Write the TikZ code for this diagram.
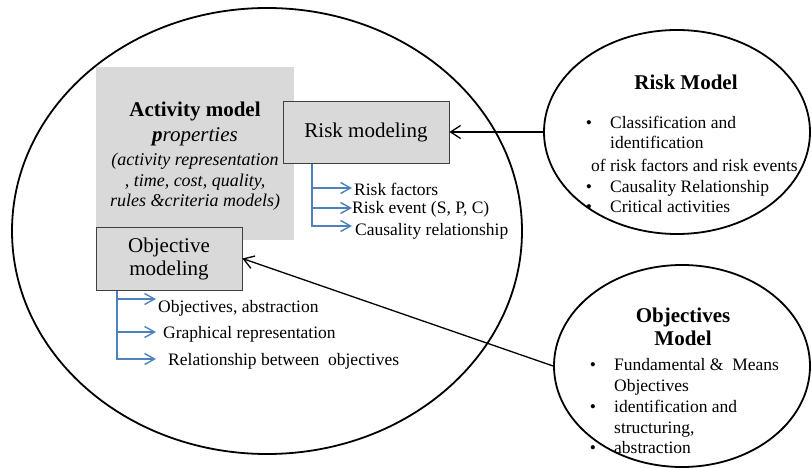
\documentclass[tikz,border=0pt]{standalone}
\usepackage{fontspec}
\setmainfont{Liberation Serif}
\usetikzlibrary{arrows.meta,shapes.geometric}
\definecolor{boxgray}{HTML}{D9D9D9}
\definecolor{bblue}{HTML}{4F81BD}
\definecolor{edgegray}{HTML}{404040}
\begin{document}
\begin{tikzpicture}[x=1pt,y=-1pt,
  bigoval/.style={draw, ellipse, line width=1.8pt, inner sep=0pt},
  graybox/.style={draw=edgegray, fill=boxgray, line width=0.8pt, inner sep=0pt},
  boxfont/.style={font=\fontsize{21}{23}\selectfont},
  body/.style={font=\fontsize{17.5}{21}\selectfont, inner sep=0pt},
  title/.style={font=\fontsize{21}{23}\selectfont\bfseries, inner sep=0pt},
  ital/.style={font=\fontsize{18}{20}\selectfont\itshape, inner sep=0pt},
  bigarrow/.style={line width=1.3pt, -{Straight Barb[length=10pt,width=13pt]}},
  bluearrow/.style={draw=bblue, line width=1.4pt, -{Straight Barb[length=10pt,width=11pt]}},
  bul/.style={body, anchor=base}]
\useasboundingbox (0,0) rectangle (812,468);

% main ellipse
\node[bigoval, minimum width=510pt, minimum height=446pt] (big) at (267,231) {};

% activity block
\node[fill=boxgray, minimum width=198pt, minimum height=173pt, inner sep=0pt] (act) at (195,153.5) {};
\node[title, anchor=base] (actt) at (195,117) {Activity model};
\node[font=\fontsize{21}{23}\selectfont\itshape, inner sep=0pt, anchor=base] (actp) at (195,142) {\textbf{p}roperties};
\node[ital, anchor=base] (act1) at (195,166) {(activity representation};
\node[ital, anchor=base] (act2) at (195,187) {, time, cost, quality,};
\node[ital, anchor=base] (act3) at (195,207) {rules \&criteria models)};

% boxes
\node[graybox, boxfont, minimum width=166pt, minimum height=62pt] (rb) at (366,132) {Risk modeling};
\node[graybox, boxfont, minimum width=146pt, minimum height=63pt, align=center] (ob) at (169,258.5) {Objective\\modeling};

% risk branches
\coordinate (r0) at (312,164);
\coordinate (r1) at (352,188);
\coordinate (r2) at (352,208);
\coordinate (r3) at (352,226);
\draw[bluearrow] (r0) |- (r1);
\draw[bluearrow] (r0) |- (r2);
\draw[bluearrow] (r0) |- (r3);
\node[body, anchor=base west] (rt1) at (354,196) {Risk factors};
\node[body, anchor=base west] (rt2) at (352,214) {Risk event (S, P, C)};
\node[body, anchor=base west] (rt3) at (355,236) {Causality relationship};

% objective branches
\coordinate (o0) at (117,291);
\coordinate (o1) at (156,299);
\coordinate (o2) at (156,332);
\coordinate (o3) at (156,359);
\draw[bluearrow] (o0) |- (o1);
\draw[bluearrow] (o0) |- (o2);
\draw[bluearrow] (o0) |- (o3);
\node[body, anchor=base west] (ot1) at (158,312) {Objectives, abstraction};
\node[body, anchor=base west] (ot2) at (163,338) {Graphical representation};
\node[body, anchor=base west] (ot3) at (168,365) {Relationship between\ \ objectives};

% Risk Model ellipse
\node[bigoval, minimum width=266pt, minimum height=204pt] (rm) at (677,132) {};
\node[title, anchor=base] (rmt) at (686,90) {Risk Model};
\node[bul] (rb1) at (589,129) {\textbullet};
\node[body, anchor=base west] (rm1) at (610,129) {Classification and};
\node[body, anchor=base west] (rm2) at (610,149) {identification};
\node[body, anchor=base west] (rm3) at (591,172) {of risk factors and risk events};
\node[bul] (rb2) at (589,193) {\textbullet};
\node[body, anchor=base west] (rm4) at (610,193) {Causality Relationship};
\node[bul] (rb3) at (589,212) {\textbullet};
\node[body, anchor=base west] (rm5) at (610,212) {Critical activities};

% Objectives Model ellipse
\node[bigoval, minimum width=256pt, minimum height=202pt] (om) at (682,366) {};
\node[title, anchor=base] (omt1) at (683,322) {Objectives};
\node[title, anchor=base] (omt2) at (683,345) {Model};
\node[bul] (ob1) at (593,370) {\textbullet};
\node[body, anchor=base west] (om1) at (614,370) {Fundamental \&\ \ Means};
\node[body, anchor=base west] (om2) at (614,391) {Objectives};
\node[bul] (ob2) at (593,412) {\textbullet};
\node[body, anchor=base west] (om3) at (614,412) {identification and};
\node[body, anchor=base west] (om4) at (614,433) {structuring,};
\node[bul] (ob3) at (593,453) {\textbullet};
\node[body, anchor=base west] (om5) at (614,453) {abstraction};

% connectors
\draw[bigarrow] (rm.west) -- (rb.east);
\draw[bigarrow] (om.west) -- (ob.east);
\end{tikzpicture}
\end{document}
